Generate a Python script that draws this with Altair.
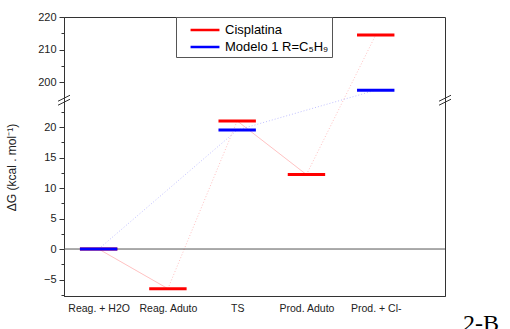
import altair as alt
import pandas as pd

# ---- data ----
categories = ["Reag. + H2O", "Reag. Aduto", "TS", "Prod. Aduto", "Prod. + Cl-"]
series_names = ["Cisplatina", "Modelo 1 R=C\u2085H\u2089"]
cisplatina = [0.0, -6.5, 21.0, 12.2, 214.5]
modelo1 = [0.0, None, 19.5, None, 197.5]
y_major = [-5, 0, 5, 10, 15, 20, 200, 210, 220]
y_minor = [-7.5, -2.5, 2.5, 7.5, 12.5, 17.5, 22.5, 205, 215]

# ---- styling ----
colors = ["#ff0000", "#0000ff"]
connector_style = {series_names[0]: ["solid", "dotted", "solid", "dotted"],
                   series_names[1]: ["dotted", "dotted"]}
half_w = 0.27

levels = []
segs = []
for name, vals in zip(series_names, [cisplatina, modelo1]):
    pts = [(i + 1, v) for i, v in enumerate(vals) if v is not None]
    for idx, v in pts:
        levels.append({"series": name, "idx": idx, "value": v})
    for k in range(len(pts) - 1):
        segs.append({"series": name, "xa": pts[k][0], "ya": pts[k][1],
                     "xb": pts[k + 1][0], "yb": pts[k + 1][1],
                     "style": connector_style[name][k]})
lev_df = pd.DataFrame(levels)
seg_df = pd.DataFrame(segs)

W, H = 381, 279
xscale = alt.Scale(domain=[0.5, 6.0], nice=False, zero=False)
yscale = alt.Scale(domain=[-7.7, 24.1, 195.1, 220], range=[H, 85, 81, 0],
                   nice=False, zero=False)

cat_js = "[" + ",".join("'" + c + "'" for c in categories) + "]"
major_js = "[" + ",".join(str(v) for v in y_major) + "]"
xaxis = alt.Axis(values=list(range(1, len(categories) + 1)),
                 labelExpr=f"{cat_js}[datum.value - 1]", ticks=False, grid=False,
                 title=None, labelFontSize=10.5, labelPadding=7, labelColor="#222",
                 labelFont="Liberation Sans", domainColor="#333", labelOverlap=False)
yaxis = alt.Axis(values=sorted(y_major + y_minor),
                 labelExpr=f"indexof({major_js}, datum.value) >= 0 ? datum.label : ''",
                 tickSize={"condition": {"test": f"indexof({major_js}, datum.value) >= 0",
                                         "value": 5}, "value": 3},
                 grid=False, labelOverlap=False, labelFontSize=11, labelColor="#222",
                 labelFont="Liberation Sans", tickColor="#333", domainColor="#333",
                 title="\u0394G (kcal . mol\u207b\u00b9)", titleFont="Liberation Sans",
                 titleFontSize=12, titleFontWeight="normal", titleColor="#222",
                 titleY=150, titleX=-46, labelPadding=3)

legend = alt.Legend(orient="none", legendX=112, legendY=0, title=None,
                    symbolType="M-1.7,0H1.7", symbolStrokeWidth=2.5, symbolOpacity=1,
                    symbolSize=289, symbolOffset=16, strokeColor="#555",
                    fillColor="white", padding=3, labelFontSize=13,
                    labelFont="Liberation Sans", labelColor="black",
                    rowPadding=0, labelOffset=10)
color = alt.Color("series:N", scale=alt.Scale(domain=series_names, range=colors),
                  legend=legend)

zero_line = alt.Chart(pd.DataFrame({"z": [0]})).mark_rule(
    color="#555", strokeWidth=1).encode(
    y=alt.Y("z:Q", scale=yscale, axis=yaxis))

connectors = alt.Chart(seg_df).mark_rule(strokeWidth=1, opacity=0.25).encode(
    x=alt.X("xa:Q", scale=xscale, axis=xaxis), x2="xb:Q",
    y=alt.Y("ya:Q", scale=yscale, axis=yaxis), y2="yb:Q",
    color=color,
    strokeDash=alt.StrokeDash("style:N", scale=alt.Scale(domain=["solid", "dotted"],
                                                         range=[[1, 0], [1, 2]]),
                              legend=None))

level_marks = alt.Chart(lev_df).mark_rule(strokeWidth=3).transform_calculate(
    x0=f"datum.idx - {half_w}", x1=f"datum.idx + {half_w}").encode(
    x=alt.X("x0:Q", scale=xscale, axis=xaxis), x2="x1:Q",
    y=alt.Y("value:Q", scale=yscale, axis=yaxis),
    color=color)

gap_df = pd.DataFrame({"g": [100]})
breaks = []
for xpos in [0, W]:
    for off in [-2, 2]:
        breaks.append(alt.Chart(gap_df).mark_rule(
            color="#333", strokeWidth=1, yOffset=3 + off, y2Offset=-3 + off).encode(
            x=alt.value(xpos - 6), x2=alt.value(xpos + 6),
            y=alt.Y("g:Q", scale=yscale, axis=yaxis), y2="g:Q"))

caption = alt.Chart(pd.DataFrame({"t": ["2-B"]})).mark_text(
    font="Liberation Serif", fontSize=24, align="left", baseline="alphabetic",
    color="black").encode(text="t:N", x=alt.value(399), y=alt.value(314))

chart = alt.layer(zero_line, connectors, level_marks, *breaks, caption).properties(
    width=W, height=H, autosize="none",
    padding={"left": 64, "top": 17, "right": 65, "bottom": 33},
).configure_view(stroke="#333", strokeWidth=1)

chart.save("out.html", embed_options={"renderer": "svg", "actions": False})
